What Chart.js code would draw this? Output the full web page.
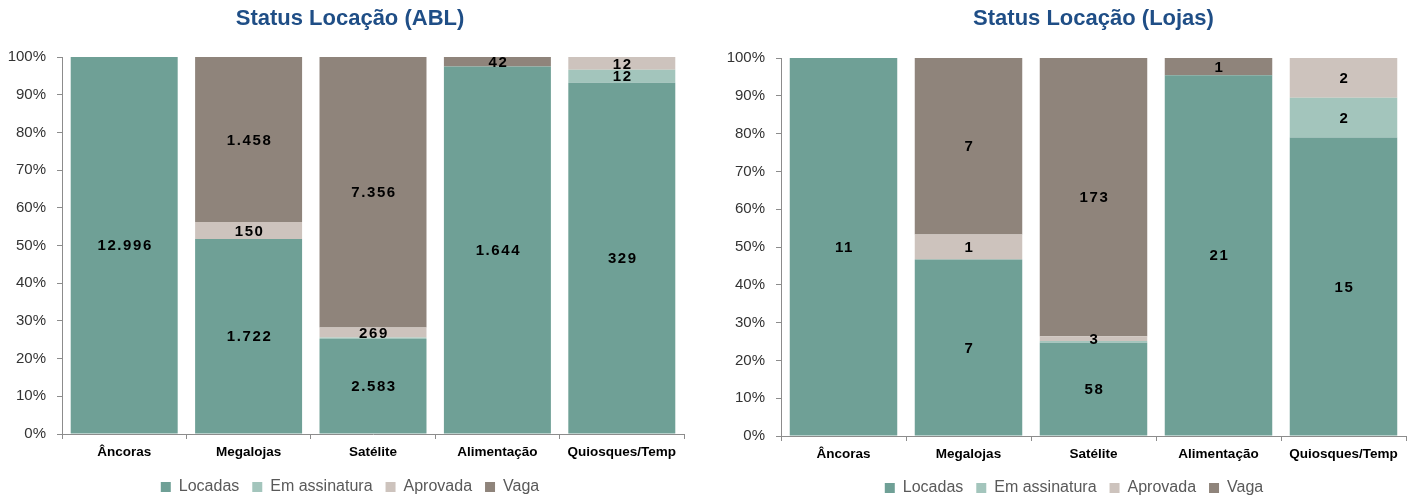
<!DOCTYPE html>
<html><head><meta charset="utf-8">
<script src="https://cdn.jsdelivr.net/npm/chart.js@4/dist/chart.umd.min.js"></script>
<style>
html,body{margin:0;padding:0;background:#fff;overflow:hidden;}
#wrap{position:relative;width:1415px;height:499px;}
#c1{position:absolute;left:0;top:0;}
#c2{position:absolute;left:700px;top:0;}
</style></head><body>
<div id="wrap"><canvas id="c1" width="700" height="499"></canvas><canvas id="c2" width="715" height="499"></canvas></div>
<script>
const categories = ['Âncoras', 'Megalojas', 'Satélite', 'Alimentação', 'Quiosques/Temp'];
const seriesNames = ['Locadas', 'Em assinatura', 'Aprovada', 'Vaga'];
const ablLocadas = [12996, 1722, 2583, 1644, 329];
const ablEmAssinatura = [0, 0, 40, 0, 12];
const ablAprovada = [0, 150, 269, 0, 12];
const ablVaga = [0, 1458, 7356, 42, 0];
const lojasLocadas = [11, 7, 58, 21, 15];
const lojasEmAssinatura = [0, 0, 1, 0, 2];
const lojasAprovada = [0, 1, 3, 0, 2];
const lojasVaga = [0, 7, 173, 1, 0];
const yTickLabels = ['0%', '10%', '20%', '30%', '40%', '50%', '60%', '70%', '80%', '90%', '100%'];
const seriesColors = ['#6fa096', '#a3c5bc', '#cdc3bd', '#8f847b'];

function fmt(n) { return String(n).replace(/\B(?=(\d{3})+(?!\d))/g, '.'); }

function buildDatasets(series) {
  const totals = categories.map((_, j) => series.reduce((s, arr) => s + arr[j], 0));
  return series.map((arr, i) => ({
    label: seriesNames[i],
    rawValues: arr,
    data: arr.map((v, j) => v / totals[j] * 100),
    backgroundColor: seriesColors[i],
    borderWidth: 0,
    categoryPercentage: 1,
    barPercentage: 0.86
  }));
}

const labelPlugin = {
  id: 'segLabels',
  afterLayout(chart) {
    // let the y tick labels extend left of the axis box without being clipped
    chart.scales.y.left = 0;
  },
  afterDatasetsDraw(chart) {
    const ctx = chart.ctx;
    ctx.save();
    ctx.font = 'bold 15px "Liberation Sans", Arial, sans-serif';
    try { ctx.letterSpacing = '1.6px'; } catch (e) {}
    ctx.fillStyle = '#000';
    ctx.textAlign = 'center';
    ctx.textBaseline = 'middle';
    chart.data.datasets.forEach((ds, i) => {
      const meta = chart.getDatasetMeta(i);
      meta.data.forEach((el, j) => {
        const raw = ds.rawValues[j];
        if (raw > 0 && ds.data[j] >= 1) {
          ctx.fillText(fmt(raw), el.x + 1, (el.y + el.base) / 2 + 1);
        }
      });
    });
    ctx.restore();
  }
};

function makeChart(id, title, series, cfg) {
  return new Chart(document.getElementById(id), {
    type: 'bar',
    data: { labels: categories, datasets: buildDatasets(series) },
    plugins: [labelPlugin],
    options: {
      responsive: false,
      animation: false,
      devicePixelRatio: 1,
      layout: { padding: { left: cfg.padLeft, right: cfg.padRight, top: 0, bottom: cfg.padBottom } },
      plugins: {
        tooltip: { enabled: false },
        title: {
          display: true, text: title, color: '#1f4e86', fullSize: cfg.titleFull,
          font: { family: '"Liberation Sans", Arial, sans-serif', size: 22, weight: 'bold' },
          padding: { top: cfg.titleTop, bottom: cfg.titleBottom }
        },
        legend: {
          position: 'bottom',
          labels: {
            boxWidth: 10, boxHeight: 10, padding: 13, color: '#595959',
            font: { family: '"Liberation Sans", Arial, sans-serif', size: 16 }
          }
        }
      },
      scales: {
        x: {
          stacked: true,
          afterFit(s) { s.height = cfg.xHeight; },
          grid: { display: true, drawOnChartArea: false, drawTicks: true, tickLength: 5, color: '#8c8c8c', offset: true },
          border: { display: true, color: '#8c8c8c' },
          ticks: { color: '#000', padding: 5, font: { family: '"Liberation Sans", Arial, sans-serif', size: 13.5, weight: 'bold' } }
        },
        y: {
          stacked: true, min: 0, max: 100,
          afterFit(s) { s.width = cfg.yWidth; },
          grid: { display: true, drawOnChartArea: false, drawTicks: true, tickLength: 5, color: '#8c8c8c' },
          border: { display: true, color: '#8c8c8c' },
          ticks: { stepSize: 10, padding: 11, color: '#333', callback: (v, i) => yTickLabels[i],
            font: { family: '"Liberation Sans", Arial, sans-serif', size: 15 } }
        }
      }
    }
  });
}

makeChart('c1', 'Status Locação (ABL)', [ablLocadas, ablEmAssinatura, ablAprovada, ablVaga],
  { padLeft: 16, padRight: 16, padBottom: -6, titleTop: 6, titleBottom: 24.6, titleFull: true, xHeight: 32, yWidth: 46 });
makeChart('c2', 'Status Locação (Lojas)', [lojasLocadas, lojasEmAssinatura, lojasAprovada, lojasVaga],
  { padLeft: 42, padRight: 9, padBottom: -7, titleTop: 6, titleBottom: 25.6, titleFull: false, xHeight: 31, yWidth: 39 });
</script>
</body></html>
